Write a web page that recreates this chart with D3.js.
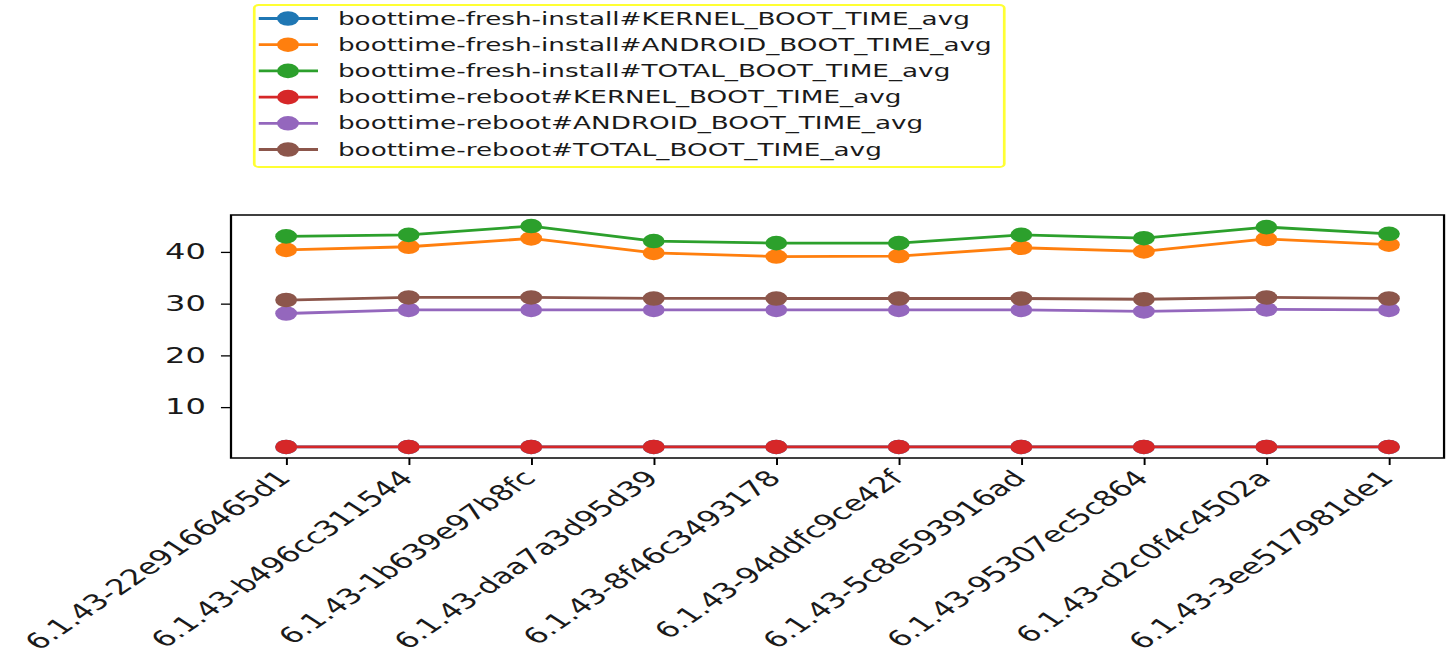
<!DOCTYPE html>
<html><head><meta charset="utf-8">
<script src="https://cdn.jsdelivr.net/npm/d3@7"></script>
<style>html,body{margin:0;padding:0;background:#fff;overflow:hidden}</style>
</head><body>
<script>
const categories = ["6.1.43-22e9166465d1","6.1.43-b496cc311544","6.1.43-1b639e97b8fc","6.1.43-daa7a3d95d39","6.1.43-8f46c3493178","6.1.43-94ddfc9ce42f","6.1.43-5c8e593916ad","6.1.43-95307ec5c864","6.1.43-d2c0f4c4502a","6.1.43-3ee517981de1"];
const seriesNames = ["boottime-fresh-install#KERNEL_BOOT_TIME_avg","boottime-fresh-install#ANDROID_BOOT_TIME_avg","boottime-fresh-install#TOTAL_BOOT_TIME_avg","boottime-reboot#KERNEL_BOOT_TIME_avg","boottime-reboot#ANDROID_BOOT_TIME_avg","boottime-reboot#TOTAL_BOOT_TIME_avg"];
const freshKernel  = [2.3,2.3,2.3,2.3,2.3,2.3,2.3,2.3,2.3,2.3];
const freshAndroid = [40.4,41.0,42.6,39.8,39.1,39.2,40.8,40.1,42.5,41.4];
const freshTotal   = [43.0,43.3,45.0,42.1,41.7,41.7,43.3,42.65,44.8,43.5];
const rebootKernel = [2.3,2.3,2.3,2.3,2.3,2.3,2.3,2.3,2.3,2.3];
const rebootAndroid= [28.1,28.8,28.8,28.8,28.8,28.8,28.8,28.5,28.9,28.8];
const rebootTotal  = [30.7,31.2,31.2,31.0,31.0,31.0,31.0,30.85,31.2,31.0];
const yTicks = [10,20,30,40];
const colors = ["#1f77b4","#ff7f0e","#2ca02c","#d62728","#9467bd","#8c564b"];
const seriesValues = [freshKernel,freshAndroid,freshTotal,rebootKernel,rebootAndroid,rebootTotal];

const W = 1456, H = 662, SX = 1.5;
const IW = W / SX;
const svg = d3.select("body").append("svg")
  .attr("width", W).attr("height", H)
  .attr("viewBox", `0 0 ${IW} ${H}`)
  .attr("preserveAspectRatio", "none")
  .style("font-family", "'DejaVu Sans', sans-serif");

const plot = {left: 154, right: 962.7, top: 215, bottom: 458};
const allVals = seriesValues.flat();
const ymin = d3.min(allVals), ymax = d3.max(allVals), pad = (ymax - ymin) * 0.05;
const x = d3.scalePoint().domain(categories).range([plot.left, plot.right]).padding(0.45);
const y = d3.scaleLinear().domain([ymin - pad, ymax + pad]).range([plot.bottom, plot.top]);

const textColor = "#1a1a1a";
const yAxis = svg.append("g").attr("transform", `translate(${plot.left},0)`)
  .call(d3.axisLeft(y).tickValues(yTicks).tickSize(6.7).tickPadding(10).tickFormat(d3.format("d")));
yAxis.select(".domain").remove();
yAxis.selectAll("line").attr("stroke", "#000").attr("stroke-width", 1.3);
yAxis.selectAll("text").attr("font-size", 21.4).attr("fill", textColor).attr("font-family","'DejaVu Sans', sans-serif");

const xAxis = svg.append("g").attr("transform", `translate(0,${plot.bottom})`)
  .call(d3.axisBottom(x).tickSize(7).tickPadding(0));
xAxis.select(".domain").remove();
xAxis.selectAll("line").attr("stroke", "#000").attr("stroke-width", 1.3);
xAxis.selectAll("text")
  .attr("font-size", 21.6).attr("fill", textColor).attr("font-family","'DejaVu Sans', sans-serif")
  .attr("text-anchor", "end")
  .attr("y", 0)
  .attr("transform", "translate(-8,10) rotate(-45.5)")
  .attr("dy", "0.75em");

svg.append("rect").attr("x", plot.left).attr("y", plot.top)
  .attr("width", plot.right - plot.left).attr("height", plot.bottom - plot.top)
  .attr("fill", "none").attr("stroke", "#000").attr("stroke-width", 1.5);

const line = d3.line().x((d, i) => x(categories[i])).y(d => y(d));
seriesValues.forEach((vals, k) => {
  const g = svg.append("g");
  g.append("path").datum(vals).attr("d", line).attr("fill", "none")
    .attr("stroke", colors[k]).attr("stroke-width", 2.8);
  g.selectAll("circle").data(vals).join("circle")
    .attr("cx", (d, i) => x(categories[i])).attr("cy", d => y(d)).attr("r", 7.3)
    .attr("fill", colors[k]);
});

const leg = {x: 169.5, y: 5, w: 500, h: 162};
svg.append("rect").attr("x", leg.x).attr("y", leg.y).attr("width", leg.w).attr("height", leg.h)
  .attr("rx", 3).attr("fill", "#fff").attr("stroke", "#ffff33").attr("stroke-width", 1.8);
seriesNames.forEach((name, k) => {
  const cy = 18.5 + k * 26.2;
  svg.append("line").attr("x1", 172.5).attr("x2", 212).attr("y1", cy).attr("y2", cy)
    .attr("stroke", colors[k]).attr("stroke-width", 2.8);
  svg.append("circle").attr("cx", 192).attr("cy", cy).attr("r", 7.3).attr("fill", colors[k]);
  svg.append("text").attr("x", 225.3).attr("y", cy).attr("dy", "0.35em")
    .attr("font-size", 17.5).attr("fill", textColor).text(name);
});
</script>
</body></html>
